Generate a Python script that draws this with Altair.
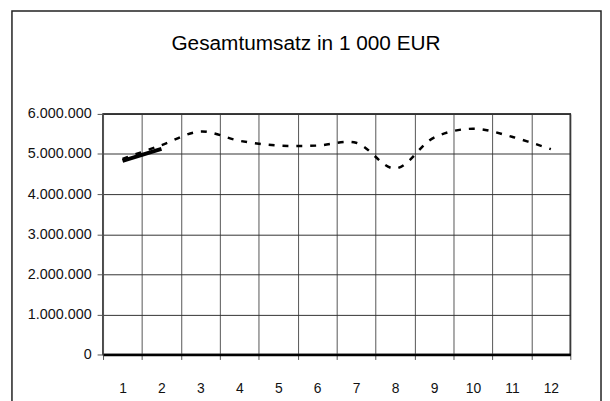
import altair as alt
import pandas as pd

TITLE = "Gesamtumsatz in 1 000 EUR"
MONTHS = list(range(1, 13))
PLAN = [4880000, 5220000, 5560000, 5330000, 5210000, 5210000,
        5280000, 4640000, 5410000, 5630000, 5430000, 5120000]
IST_MONTHS = [1, 2]
IST = [4830000, 5130000]
Y_TICKS = [0, 1000000, 2000000, 3000000, 4000000, 5000000, 6000000]
X_BOUNDS = [m - 0.5 for m in MONTHS] + [12.5]

W, H = 472, 243
FONT = "Liberation Sans"

plan_df = pd.DataFrame({"Monat": MONTHS, "Umsatz": PLAN})
ist_df = pd.DataFrame({"Monat": IST_MONTHS, "Umsatz": IST})
title_df = pd.DataFrame({"t": [TITLE]})

x_enc = alt.X(
    "Monat:Q",
    scale=alt.Scale(domain=[0.5, 12.5], nice=False, zero=False),
    axis=alt.Axis(
        values=X_BOUNDS,
        title=None,
        grid=True, gridColor="#555", gridWidth=1,
        ticks=True, tickSize=5, tickColor="#555",
        domain=True, domainColor="#000", domainWidth=2.5,
        labelExpr="datum.value < 12 ? format(datum.value + 0.5, 'd') : ''",
        labelOffset=W / 24, labelPadding=22,
        labelFlush=False, labelOverlap=False,
        labelFont=FONT, labelFontSize=14, labelColor="#111",
    ),
)
y_enc = alt.Y(
    "Umsatz:Q",
    scale=alt.Scale(domain=[0, 6000000], nice=False),
    axis=alt.Axis(
        values=Y_TICKS,
        title=None,
        grid=True, gridColor="#333", gridWidth=1,
        ticks=True, tickSize=6, tickColor="#555",
        domain=False,
        labelExpr="replace(format(datum.value, ','), /,/g, '.')",
        labelPadding=6,
        labelFont=FONT, labelFontSize=14.5, labelColor="#111",
    ),
)

frame = alt.Chart(title_df).mark_rect(filled=False, stroke="#222", strokeWidth=1.5).encode(
    x=alt.value(-92), x2=alt.value(503), y=alt.value(-104), y2=alt.value(400)
)
title = alt.Chart(title_df).mark_text(
    align="center", baseline="alphabetic", fontSize=21, font=FONT, color="#000"
).encode(x=alt.value(205), y=alt.value(-64.7), text="t:N")

plan = alt.Chart(plan_df).mark_line(
    interpolate="catmull-rom", strokeDash=[6, 8], strokeWidth=2.5, color="#000"
).encode(x=x_enc, y=y_enc)
ist = alt.Chart(ist_df).mark_line(strokeWidth=4, color="#000").encode(x=x_enc, y=y_enc)

chart = alt.layer(frame, title, plan, ist).properties(
    width=W, height=H,
    autosize=alt.AutoSizeParams(type="none"),
    padding={"left": 96, "top": 105, "right": 32, "bottom": 45},
    background="white",
).configure_view(stroke="#000", strokeWidth=1.5)

chart.save("out.html", embed_options={"renderer": "svg", "actions": False})
